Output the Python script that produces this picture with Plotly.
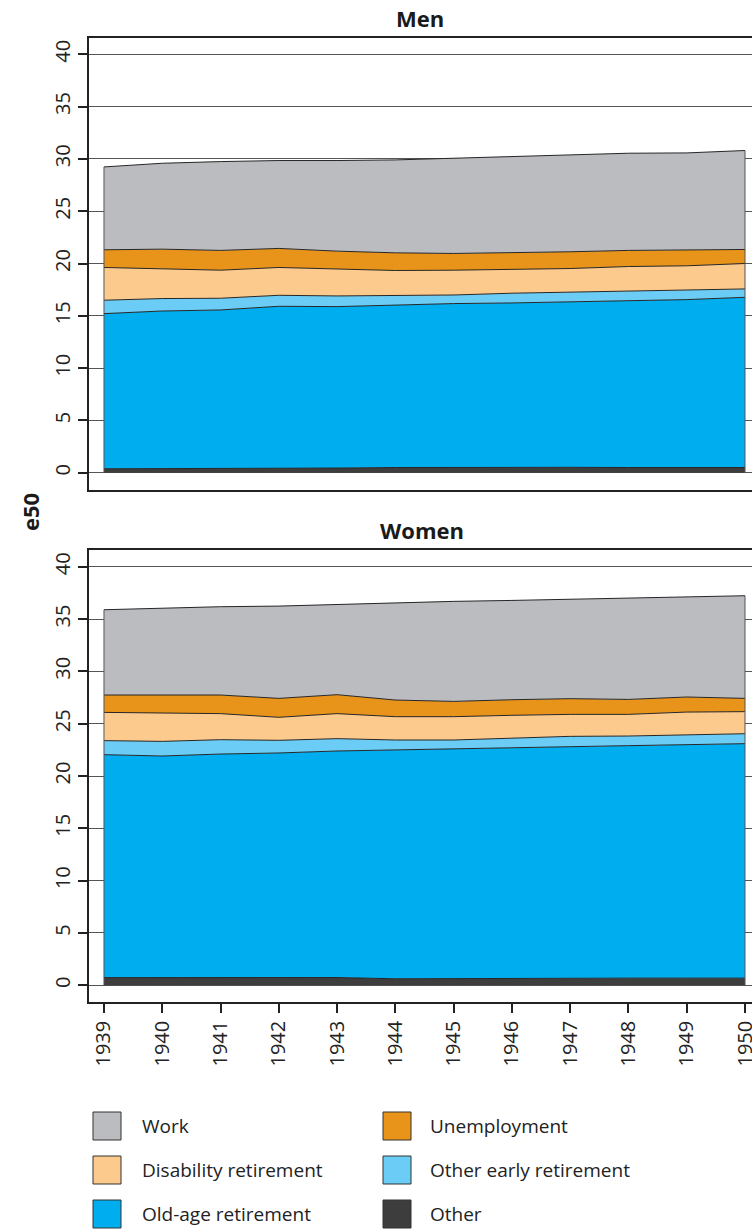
import plotly.graph_objects as go

# Birth cohorts on the x axis
years = [1939, 1940, 1941, 1942, 1943, 1944, 1945, 1946, 1947, 1948, 1949, 1950]
year_labels = [str(y) for y in years]

# State names, stacked from bottom to top
states = ["Other", "Old-age retirement", "Other early retirement",
          "Disability retirement", "Unemployment", "Work"]

# Years spent in each state after age 50 (e50 decomposition), men
men_other = [0.38, 0.38, 0.40, 0.42, 0.45, 0.50, 0.52, 0.52, 0.52, 0.50, 0.50, 0.50]
men_oldage = [14.83, 15.08, 15.16, 15.49, 15.43, 15.54, 15.65, 15.71, 15.81, 15.99, 16.05, 16.27]
men_early = [1.28, 1.19, 1.12, 1.05, 1.02, 0.89, 0.82, 0.93, 0.92, 0.89, 0.86, 0.80]
men_disability = [3.13, 2.87, 2.68, 2.66, 2.59, 2.40, 2.37, 2.26, 2.27, 2.33, 2.37, 2.43]
men_unemployment = [1.69, 1.85, 1.89, 1.82, 1.69, 1.69, 1.60, 1.60, 1.60, 1.54, 1.50, 1.34]
men_work = [7.92, 8.21, 8.49, 8.40, 8.66, 8.88, 9.10, 9.20, 9.26, 9.29, 9.29, 9.46]

# Same decomposition, women
women_other = [0.73, 0.72, 0.72, 0.72, 0.74, 0.62, 0.65, 0.68, 0.68, 0.68, 0.68, 0.68]
women_oldage = [21.31, 21.19, 21.38, 21.48, 21.65, 21.86, 21.90, 22.00, 22.12, 22.22, 22.31, 22.41]
women_early = [1.34, 1.40, 1.37, 1.21, 1.18, 0.96, 0.89, 0.95, 0.99, 0.92, 0.96, 0.95]
women_disability = [2.70, 2.71, 2.49, 2.20, 2.39, 2.23, 2.23, 2.17, 2.10, 2.07, 2.16, 2.11]
women_unemployment = [1.66, 1.72, 1.78, 1.81, 1.81, 1.59, 1.46, 1.49, 1.50, 1.43, 1.44, 1.27]
women_work = [8.15, 8.31, 8.44, 8.82, 8.63, 9.30, 9.56, 9.49, 9.52, 9.65, 9.62, 9.81]

y_ticks = [0, 5, 10, 15, 20, 25, 30, 35, 40]

colors = {
    "Work": "#BBBCC0",
    "Unemployment": "#E8941A",
    "Disability retirement": "#FDCA8E",
    "Other early retirement": "#6BCDF5",
    "Old-age retirement": "#00ADEE",
    "Other": "#3D3D3D",
}

FONT = "Open Sans"
W, H = 752, 1230
LEFT = 89

panels = [
    ("men", "x", "y", [men_other, men_oldage, men_early, men_disability, men_unemployment, men_work]),
    ("women", "x2", "y2", [women_other, women_oldage, women_early, women_disability, women_unemployment, women_work]),
]

fig = go.Figure()

for group, xa, ya, series in panels:
    for name, vals in zip(states, series):
        fig.add_trace(go.Scatter(
            x=years, y=vals, name=name, mode="lines",
            stackgroup=group, fillcolor=colors[name],
            line=dict(color="#262626", width=1),
            xaxis=xa, yaxis=ya, showlegend=False, hoverinfo="skip",
        ))
    # outline of the stacked block at the first and last cohort
    totals = [sum(v) for v in zip(*series)]
    for i in (0, -1):
        fig.add_trace(go.Scatter(
            x=[years[i], years[i]], y=[0, totals[i]], mode="lines",
            line=dict(color="#555555", width=1),
            xaxis=xa, yaxis=ya, showlegend=False, hoverinfo="skip",
        ))


def px_x(p):
    # paper x is measured across the plotting area, which starts at LEFT
    return (p - LEFT) / (W - LEFT)


def px_y(p):
    return 1 - p / H


x_range = [1938.743, 1950.12]
y_range = [-1.6, 41.6]

common_x = dict(range=x_range, showgrid=False, zeroline=False, automargin=False,
                showline=True, mirror=True, linecolor="#222222", linewidth=1.5,
                domain=[0, 1], fixedrange=True)
common_y = dict(range=y_range, tickvals=y_ticks, ticktext=[str(t) for t in y_ticks],
                tickangle=-90, ticks="outside", ticklen=9, tickwidth=1.5, automargin=False,
                tickcolor="#222222", showgrid=True, gridcolor="#555555", gridwidth=1,
                zeroline=False, showline=True, linecolor="#222222", linewidth=1.5,
                tickfont=dict(family=FONT, size=20, color="#222222"), fixedrange=True)

fig.update_layout(
    width=W, height=H,
    margin=dict(l=LEFT, r=0, t=0, b=0, autoexpand=False),
    paper_bgcolor="white", plot_bgcolor="white",
    xaxis=dict(common_x, anchor="y", showticklabels=False, ticks=""),
    yaxis=dict(common_y, anchor="x", domain=[(H - 489.5) / H, (H - 37.5) / H]),
    xaxis2=dict(common_x, anchor="y2", tickvals=years, ticktext=year_labels,
                tickangle=-90, ticks="outside", ticklen=9, tickwidth=1.5,
                tickcolor="#222222", ticklabeloverflow="allow",
                tickfont=dict(family=FONT, size=20, color="#222222")),
    yaxis2=dict(common_y, anchor="x2", domain=[(H - 1002) / H, (H - 550) / H]),
    showlegend=False,
)

annotations = [
    dict(text="<b>Men</b>", x=px_x(420), y=px_y(18)),
    dict(text="<b>Women</b>", x=px_x(422), y=px_y(530)),
    dict(text="<b>e50</b>", x=px_x(30), y=px_y(512), textangle=-90),
]
for a in annotations:
    a.update(xref="paper", yref="paper", showarrow=False, xanchor="center",
             yanchor="middle", font=dict(family=FONT, size=22, color="#1a1a1a"))

# legend swatches and labels, two columns of three rows
legend_order = ["Work", "Unemployment", "Disability retirement",
                "Other early retirement", "Old-age retirement", "Other"]
col_sq = [93, 383]
col_txt = [140, 428]
row_top = [1112, 1156, 1200]
sq = 28
shapes = []
for k, name in enumerate(legend_order):
    c, r = k % 2, k // 2
    x0, y0 = col_sq[c], row_top[r]
    shapes.append(dict(type="rect", xref="paper", yref="paper",
                       x0=px_x(x0), x1=px_x(x0 + sq), y0=px_y(y0 + sq), y1=px_y(y0),
                       fillcolor=colors[name], line=dict(color="#333333", width=1)))
    annotations.append(dict(text=name, xref="paper", yref="paper", showarrow=False,
                            x=px_x(col_txt[c]), y=px_y(y0 + sq / 2),
                            xanchor="left", yanchor="middle",
                            font=dict(family=FONT, size=19, color="#222222")))

fig.update_layout(annotations=annotations, shapes=shapes)

fig.write_html("out.html")
